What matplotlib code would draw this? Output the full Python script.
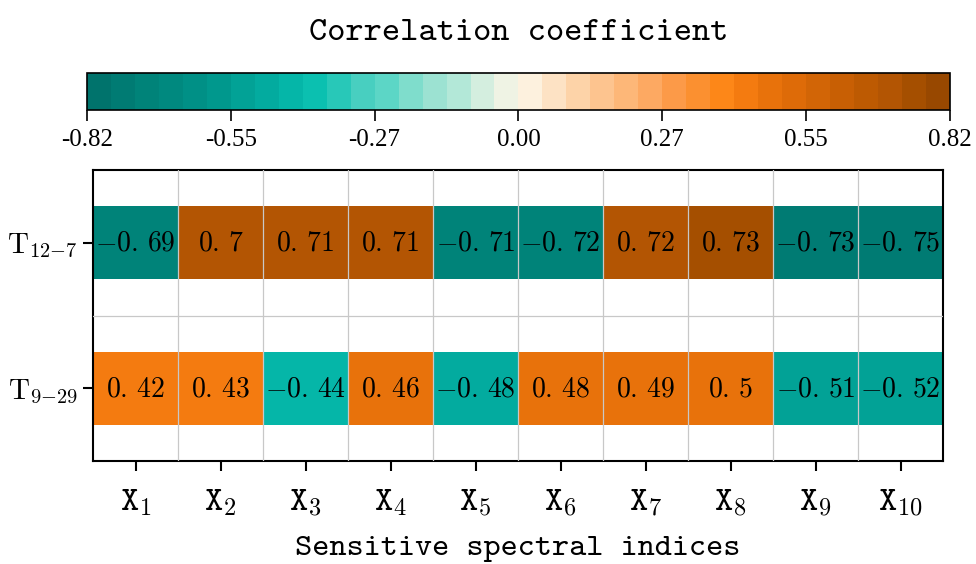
import numpy as np
import matplotlib
matplotlib.use("Agg")
import matplotlib.pyplot as plt
from matplotlib.colors import ListedColormap, Normalize

plt.rcParams['mathtext.fontset'] = 'cm'
plt.rcParams['axes.unicode_minus'] = True

# data
row_labels = [r"$\mathrm{T}_{12{-}7}$", r"$\mathrm{T}_{9{-}29}$"]
col_labels = ["X$_{%d}$" % i for i in range(1, 11)]
t_12_7 = [-0.69, 0.70, 0.71, 0.71, -0.71, -0.72, 0.72, 0.73, -0.73, -0.75]
t_9_29 = [0.42, 0.43, -0.44, 0.46, -0.48, 0.48, 0.49, 0.50, -0.51, -0.52]
vmin, vmax = -0.82, 0.82
cbar_ticks = np.linspace(vmin, vmax, 7)

data = np.array([t_12_7, t_9_29])

# 36-step teal -> cream -> orange -> brown palette
palette = [
    "#00736c", "#007b73", "#008379", "#00897f", "#009086", "#00988d",
    "#02a296", "#03ab9f", "#05b6a8", "#0bc0b0", "#28c8b8", "#48cfc0",
    "#5cd6c6", "#7fddcc", "#9ce2d2", "#b3e8d8", "#d4eedf", "#eff3e4",
    "#fdf1de", "#fde2c4", "#fdd3a8", "#fdc48f", "#fdb778", "#fda962",
    "#fc9a48", "#fb9030", "#fd8718", "#f47b10", "#e8720b", "#de6b08",
    "#d26506", "#c85f04", "#bd5a02", "#b35503", "#a54f00", "#984800",
]
cmap = ListedColormap(palette)
norm = Normalize(vmin=vmin, vmax=vmax)

fig = plt.figure(figsize=(9.76, 5.64), dpi=100)
ax = fig.add_axes([0.0953, 0.1826, 0.8709, 0.516])
cax = fig.add_axes([0.0891, 0.805, 0.8842, 0.0656])

xedges = np.arange(data.shape[1] + 1) - 0.5
for i in range(data.shape[0]):
    mesh = ax.pcolormesh(xedges, [i - 0.25, i + 0.25], data[i:i + 1],
                         cmap=cmap, norm=norm)
    for j, v in enumerate(data[i]):
        s = ("%g" % v).replace(".", r".\,")
        ax.text(j, i, "$%s$" % s, ha='center', va='center', fontsize=20)

ax.set_xlim(-0.5, data.shape[1] - 0.5)
ax.set_ylim(1.5, -0.5)
ax.set_xticks(range(data.shape[1]))
ax.set_xticklabels(col_labels, family='cmtt10', fontsize=25)
ax.set_yticks(range(data.shape[0]))
ax.set_yticklabels(row_labels, fontsize=21)
ax.set_xticks(xedges[1:-1], minor=True)
ax.set_yticks([0.5], minor=True)
ax.tick_params(which='minor', length=0)
ax.tick_params(which='major', length=7, width=1.5)
ax.tick_params(axis='x', pad=12)
ax.tick_params(axis='y', pad=4)
ax.grid(which='minor', color='#c8c8c8', lw=0.9)
ax.set_axisbelow(False)
for s in ax.spines.values():
    s.set_linewidth(1.5)
ax.set_xlabel("Sensitive spectral indices", family='cmtt10', fontsize=23.5, labelpad=12)

cb = fig.colorbar(mesh, cax=cax, orientation='horizontal', ticks=cbar_ticks)
cb.ax.set_xticklabels(["%.2f" % t for t in cbar_ticks], family='Liberation Serif', fontsize=18)
cb.ax.tick_params(length=8, width=1.2, pad=6)
cb.outline.set_linewidth(1.2)
cax.set_title("Correlation coefficient", family='cmtt10', fontsize=25, pad=24)

fig.savefig("out.png", dpi=100)
